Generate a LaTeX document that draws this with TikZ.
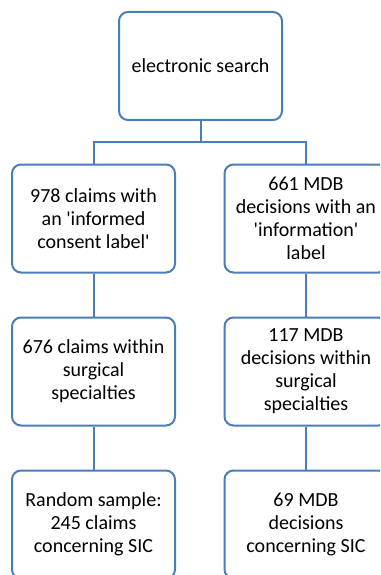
\documentclass[tikz,border=0pt]{standalone}
\usepackage{fontspec}
\setmainfont{Carlito}
\definecolor{boxblue}{HTML}{4A7EBB}
\newcommand{\sq}{\textquotesingle}
\begin{document}
\begin{tikzpicture}[x=1pt,y=-1pt,
  box/.style={draw=boxblue, line width=2pt, rounded corners=9pt, fill=white,
    minimum width=163pt, minimum height=108pt, align=center, inner sep=2pt,
    font=\fontsize{20}{23}\selectfont},
  link/.style={draw=boxblue, line width=2pt}]
\useasboundingbox (0,0) rectangle (380,575);
\clip (0,0) rectangle (380,575);
\node[box] (top) at (200.5,66) {electronic search};
\node[box] (l1) at (93.5,218.5) {978 claims with\\an \sq informed\\consent label\sq};
\node[box] (r1) at (306,218.5) {661 MDB\\decisions with an\\\sq information\sq\\label};
\node[box] (l2) at (93.5,371.5) {676 claims within\\surgical\\specialties};
\node[box] (r2) at (306,371.5) {117 MDB\\decisions within\\surgical\\specialties};
\node[box] (l3) at (93.5,524.5) {Random sample:\\245 claims\\concerning SIC};
\node[box] (r3) at (306,524.5) {69 MDB\\decisions\\concerning SIC};
\coordinate (j) at (200.5,142);
\draw[link] (top.south) -- (j);
\draw[link] (j) -| (l1.north);
\draw[link] (j) -| (r1.north);
\draw[link] (l1) -- (l2);
\draw[link] (r1) -- (r2);
\draw[link] (l2) -- (l3);
\draw[link] (r2) -- (r3);
\end{tikzpicture}
\end{document}
